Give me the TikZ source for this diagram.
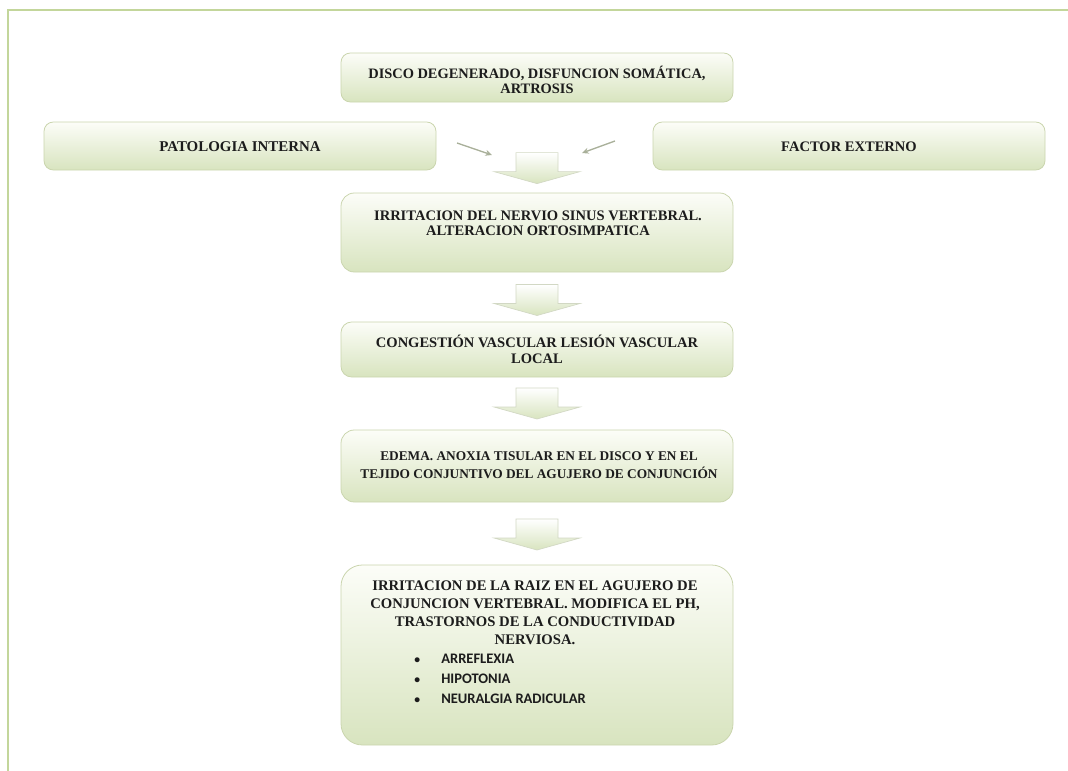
\documentclass[tikz,border=0pt]{standalone}
\usepackage{fontspec}
\setmainfont{Liberation Serif}
\newfontfamily\listfont{Carlito}
\usetikzlibrary{arrows.meta,calc}
\definecolor{frameline}{HTML}{C3D69B}
\definecolor{boxline}{HTML}{CAD5AE}
\definecolor{boxtop}{HTML}{FCFDF8}
\definecolor{boxbottom}{HTML}{D8E4BF}
\definecolor{arrowline}{HTML}{D2D8C4}
\definecolor{arrowgray}{HTML}{A9B09A}
\definecolor{ink}{HTML}{1C1C1C}
\newcommand{\itembullet}{\makebox[20.25pt][l]{\scalebox{0.8}{\textbullet}}}
\begin{document}
\begin{tikzpicture}[x=0.75pt,y=-0.75pt,
  box/.style={draw=boxline, line width=0.6pt, top color=boxtop, bottom color=boxbottom,
    inner sep=0pt, minimum width=294pt},
  txt/.style={font=\fontsize{10.9}{11.25}\selectfont\bfseries, text=ink, align=center,
    anchor=base, inner sep=0pt},
  items/.style={font=\listfont\fontsize{10.9}{15}\selectfont\bfseries, text=ink, align=left,
    anchor=base west, inner sep=0pt},
  thinarrow/.style={draw=arrowgray, line width=1pt, -{Stealth[length=5pt,width=4.5pt]}},
  blockarrow/.pic={\path[draw=arrowline, line width=0.5pt, top color=white, bottom color=boxbottom]
    (-21,-15.5) -- (21,-15.5) -- (21,3.5) -- (43,3.5) -- (0,15.5) -- (-43,3.5) -- (-21,3.5) -- cycle;}
]
\useasboundingbox (0,0) rectangle (1068,771);
% page frame
\draw[frameline, line width=1.6pt] (8,771) -- (8,10) -- (1068,10);

% boxes
\node[box, rounded corners=7pt, minimum height=36.75pt] (b1) at (537,77.5) {};
\node[box, rounded corners=7pt, minimum height=36pt] (pat) at (240,146) {};
\node[box, rounded corners=7pt, minimum height=36pt] (fac) at (849,146) {};
\node[box, rounded corners=10pt, minimum height=59.25pt] (b2) at (537,232.5) {};
\node[box, rounded corners=8pt, minimum height=41.25pt] (b3) at (537,349.5) {};
\node[box, rounded corners=10pt, minimum height=54pt] (b4) at (537,466) {};
\node[box, rounded corners=16pt, minimum height=135pt] (b5) at (537,655) {};

% texts (base anchor sits on the last line)
\node[txt, font=\fontsize{10.8}{11.25}\selectfont\bfseries] (t1) at (537,93) {DISCO DEGENERADO, DISFUNCION SOMÁTICA,\\ARTROSIS};
\node[txt, font=\fontsize{11.2}{11.25}\selectfont\bfseries] (tp) at (pat.center |- 0,151) {PATOLOGIA INTERNA};
\node[txt] (tf) at (fac.center |- 0,151) {FACTOR EXTERNO};
\node[txt] (t2) at (538,235) {IRRITACION DEL NERVIO SINUS VERTEBRAL.\\ALTERACION ORTOSIMPATICA};
\node[txt, font=\fontsize{10.9}{12}\selectfont\bfseries] (t3) at (537,363) {CONGESTIÓN VASCULAR LESIÓN VASCULAR\\LOCAL};
\node[txt, font=\fontsize{10}{13.5}\selectfont\bfseries] (t4) at (539,478) {EDEMA. ANOXIA TISULAR EN EL DISCO Y EN EL\\TEJIDO CONJUNTIVO DEL AGUJERO DE CONJUNCIÓN};
\node[txt, font=\fontsize{11}{13.5}\selectfont\bfseries] (t5) at (535,644) {IRRITACION DE LA RAIZ EN EL AGUJERO DE\\CONJUNCION VERTEBRAL. MODIFICA EL PH,\\TRASTORNOS DE LA CONDUCTIVIDAD\\NERVIOSA.};
\node[items] (list) at (414,703) {\itembullet ARREFLEXIA\\
  \itembullet HIPOTONIA\\
  \itembullet NEURALGIA RADICULAR};

% block arrows between the steps
\coordinate (a1) at ($(b2.north)+(0,-24.5)$);
\pic at (a1) {blockarrow};
\pic at ($(b2.south)!0.5!(b3.north)+(0,3)$) {blockarrow};
\pic at ($(b3.south)!0.5!(b4.north)$) {blockarrow};
\pic at ($(b4.south)!0.5!(b5.north)+(0,1)$) {blockarrow};

% side influences
\coordinate (pl) at (457,143);
\coordinate (pl2) at (492,155);
\coordinate (fr) at (615,141);
\coordinate (fr2) at (582,153);
\draw[thinarrow] (pl) -- (pl2);
\draw[thinarrow] (fr) -- (fr2);
\end{tikzpicture}
\end{document}
